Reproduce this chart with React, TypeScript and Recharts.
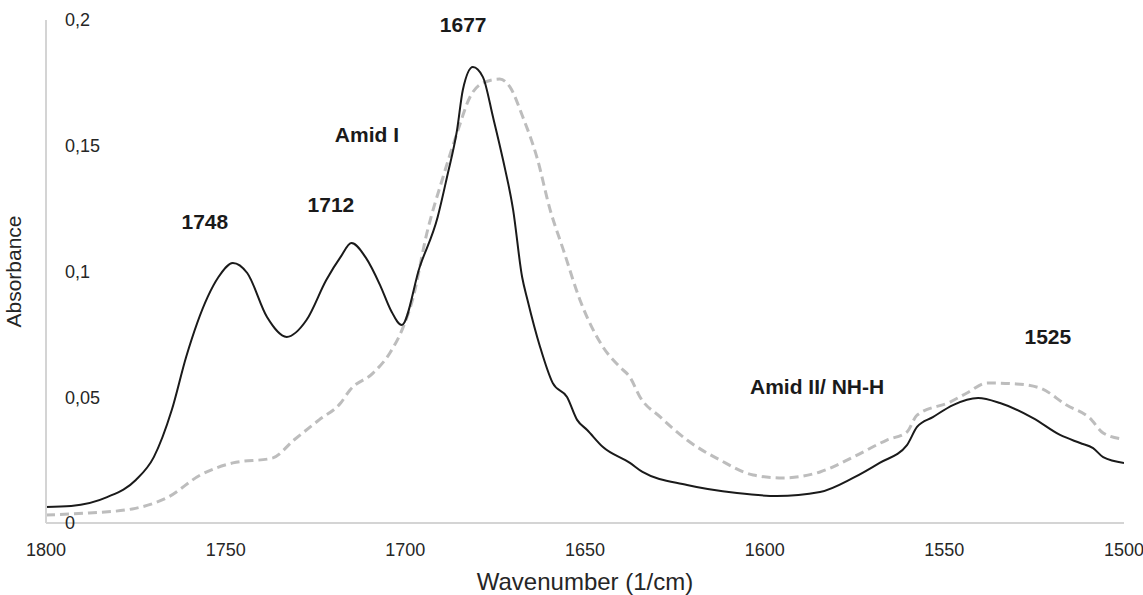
import React from "react";
import {
  LineChart,
  Line,
  XAxis,
  YAxis,
  ReferenceDot,
} from "recharts";

// sample spectrum (solid black)
const blackWavenumber = [
  1800, 1793, 1783, 1775, 1770, 1765, 1761, 1755, 1752, 1748, 1744, 1738.5, 1733, 1727.5, 1722,
  1718, 1715, 1711, 1707, 1704, 1701, 1696, 1691, 1688.4, 1685.6, 1684, 1681.2, 1678.4, 1675.6,
  1672.8, 1670, 1667.5, 1666, 1662.5, 1659, 1655, 1652.2, 1649.4, 1645, 1637.5, 1634, 1621.6,
  1607.7, 1596.6, 1584.6, 1575.4, 1568, 1560.4, 1557.6, 1553.2, 1547.6, 1540.6, 1534.5, 1525.3,
  1517.8, 1512.2, 1508.6, 1505.8, 1500,
];
const blackAbsorbance = [
  0.0064, 0.0068, 0.0103, 0.0171, 0.0262, 0.0449, 0.066, 0.0899, 0.0978, 0.1034, 0.0994, 0.0819,
  0.074, 0.0807, 0.0966, 0.1058, 0.1113, 0.1055, 0.0945, 0.0845, 0.0787, 0.1018, 0.1217, 0.1376,
  0.1563, 0.1722, 0.1813, 0.1773, 0.1614, 0.1443, 0.1245, 0.0978, 0.0887, 0.07, 0.0557, 0.0501,
  0.041, 0.037, 0.0302, 0.0239, 0.0203, 0.0151, 0.0119, 0.0107, 0.0123, 0.0179, 0.0239, 0.031,
  0.0382, 0.0421, 0.0469, 0.0497, 0.0477, 0.0417, 0.035, 0.0318, 0.0298, 0.0262, 0.0239,
];

// reference spectrum (grey dashed)
const greyWavenumber = [
  1800, 1788, 1776, 1766, 1757, 1748, 1737, 1731, 1724, 1718, 1715.4, 1709, 1704.3, 1700.6, 1698,
  1694, 1689.5, 1685.6, 1682, 1678.4, 1673.7, 1670.9, 1667.3, 1663.4, 1659.7, 1656, 1651.4, 1645,
  1640.3, 1637.5, 1634.7, 1629, 1621.6, 1612.4, 1603.2, 1595, 1584.6, 1575.4, 1566, 1560.4, 1557.6,
  1548.4, 1543.7, 1538, 1530, 1523.4, 1516, 1509.5, 1505.8, 1500.5,
];
const greyAbsorbance = [
  0.0032, 0.004, 0.0056, 0.0103, 0.0191, 0.0239, 0.0258, 0.033, 0.041, 0.0477, 0.0529, 0.0596,
  0.0676, 0.0779, 0.0887, 0.1153, 0.1376, 0.1551, 0.1694, 0.175, 0.1765, 0.1734, 0.1614, 0.1455,
  0.1245, 0.1085, 0.0887, 0.07, 0.062, 0.058, 0.0501, 0.0421, 0.033, 0.025, 0.0191, 0.0179, 0.0203,
  0.0262, 0.033, 0.0362, 0.0429, 0.0481, 0.0517, 0.0557, 0.0553, 0.0537, 0.0469, 0.0417, 0.0358,
  0.0334,
];

const xTicks = [1800, 1750, 1700, 1650, 1600, 1550, 1500];
const yTicks = [0, 0.05, 0.1, 0.15, 0.2];

// peak annotations: text, wavenumber, absorbance
const annotationText = ["1677", "Amid I", "1748", "1712", "1525", "Amid II/ NH-H"];
const annotationX = [1683.9, 1710.7, 1755.8, 1720.7, 1521.2, 1585.4];
const annotationY = [0.198, 0.1543, 0.1197, 0.1268, 0.074, 0.0541];

const blackData = blackWavenumber.map((wn, i) => ({ wn, abs: blackAbsorbance[i] }));
const greyData = greyWavenumber.map((wn, i) => ({ wn, abs: greyAbsorbance[i] }));

const FONT = '"Liberation Sans", Arial, sans-serif';
const AXIS_COLOR = "#d4d4d4";
const TEXT_COLOR = "#262626";

const formatComma = (v: number) => String(v).replace(".", ",");

function YTick(props: any) {
  const { x, y, payload } = props;
  return (
    <text
      x={x + 19}
      y={y}
      dy="0.35em"
      textAnchor="start"
      fill={TEXT_COLOR}
      fontSize={18}
      fontFamily={FONT}
    >
      {formatComma(payload.value)}
    </text>
  );
}

export default function App() {
  return (
    <div style={{ position: "absolute", top: 0, left: 0, background: "#fff" }}>
      <LineChart
        width={1143}
        height={595}
        margin={{ top: 20, right: 19, left: 0, bottom: 0 }}
        style={{ fontFamily: FONT }}
      >
        <XAxis
          dataKey="wn"
          type="number"
          domain={[1500, 1800]}
          reversed
          ticks={xTicks}
          interval={0}
          allowDataOverflow
          height={72}
          axisLine={{ stroke: AXIS_COLOR, strokeWidth: 2 }}
          tickLine={false}
          tickMargin={14}
          tick={{ fill: TEXT_COLOR, fontSize: 18, fontFamily: FONT }}
          label={{
            value: "Wavenumber (1/cm)",
            position: "insideBottom",
            offset: 5,
            fill: TEXT_COLOR,
            fontSize: 24,
            fontFamily: FONT,
          }}
        />
        <YAxis
          type="number"
          domain={[0, 0.2]}
          ticks={yTicks}
          interval={0}
          width={46}
          axisLine={{ stroke: AXIS_COLOR, strokeWidth: 2 }}
          tickLine={false}
          tickSize={0}
          tickMargin={0}
          tick={<YTick />}
          label={{
            value: "Absorbance",
            angle: -90,
            position: "insideLeft",
            offset: 20,
            dx: -6,
            fill: TEXT_COLOR,
            fontSize: 21,
            fontFamily: FONT,
            style: { textAnchor: "middle" },
          }}
        />
        <Line
          data={greyData}
          dataKey="abs"
          type="monotone"
          stroke="#bdbdbd"
          strokeWidth={3}
          strokeDasharray="9 5"
          dot={false}
          activeDot={false}
          isAnimationActive={false}
        />
        <Line
          data={blackData}
          dataKey="abs"
          type="monotone"
          stroke="#1a1a1a"
          strokeWidth={2}
          dot={false}
          activeDot={false}
          isAnimationActive={false}
        />
        {annotationText.map((t, i) => (
          <ReferenceDot
            key={t}
            x={annotationX[i]}
            y={annotationY[i]}
            r={0}
            fill="none"
            stroke="none"
            label={{
              value: t,
              position: "center",
              fill: "#1a1a1a",
              fontSize: 21,
              fontWeight: 700,
              fontFamily: FONT,
            }}
          />
        ))}
      </LineChart>
    </div>
  );
}
